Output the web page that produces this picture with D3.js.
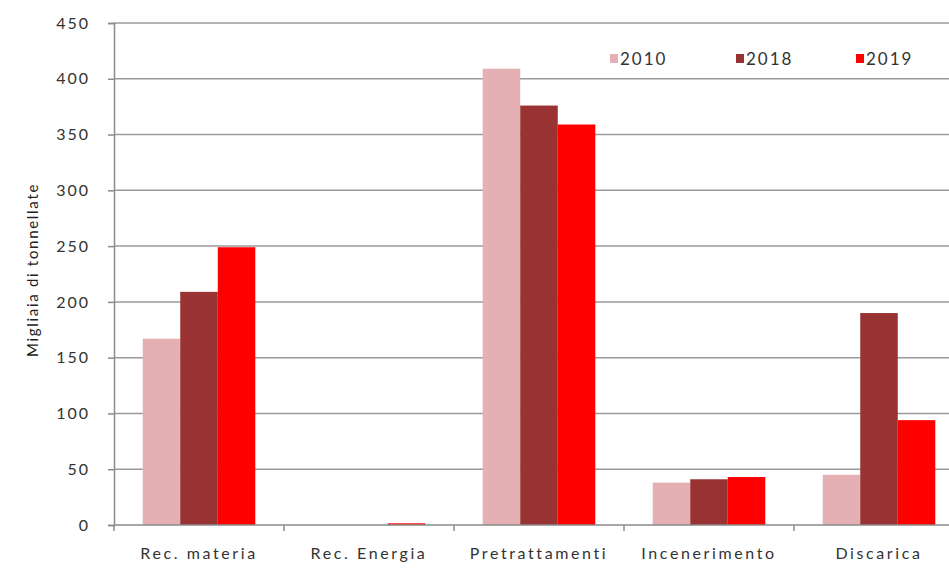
<!DOCTYPE html>
<html><head><meta charset="utf-8">
<script src="https://cdn.jsdelivr.net/npm/d3@7"></script>
<style>body{margin:0;background:#fff}svg{display:block}</style>
</head><body>
<svg id="c" width="949" height="570"></svg>
<script>
const categories = ["Rec. materia", "Rec. Energia", "Pretrattamenti", "Incenerimento", "Discarica"];
const seriesNames = ["2010", "2018", "2019"];
const values2010 = [167, 0, 409, 38, 45];
const values2018 = [209, 0, 376, 41, 190];
const values2019 = [249, 1.5, 359, 43, 94];
const yTicks = [0, 50, 100, 150, 200, 250, 300, 350, 400, 450];
const colors = ["#e4b0b4", "#993333", "#ff0000"];

(function () {
const seriesVals = [values2010, values2018, values2019];
const svg = d3.select("#c");
const mLeft = 114, mTop = 23, mBottom = 525, catW = 170;
const mRight = mLeft + catW * categories.length;
const FF = "Lato, 'Open Sans', sans-serif";

const x = d3.scaleBand().domain(categories).range([mLeft, mRight]).paddingInner(0).paddingOuter(0);
const xs = d3.scaleBand().domain(seriesNames).range([0, x.bandwidth()]).paddingInner(0).paddingOuter(0.765);
const y = d3.scaleLinear().domain([0, 450]).range([mBottom, mTop]);

svg.append("g").selectAll("line").data(yTicks.filter(d => d > 0)).join("line")
  .attr("x1", mLeft).attr("x2", 949).attr("y1", d => y(d)).attr("y2", d => y(d))
  .attr("stroke", "#9a9a9a").attr("stroke-width", 1.5);

const g = svg.append("g");
categories.forEach((c, i) => {
  seriesNames.forEach((s, j) => {
    const v = seriesVals[j][i];
    g.append("rect")
      .attr("x", x(c) + xs(s)).attr("width", xs.bandwidth())
      .attr("y", y(v)).attr("height", mBottom - y(v))
      .attr("fill", colors[j]);
  });
});

const yAxis = d3.axisLeft(y).tickValues(yTicks).tickSize(6).tickPadding(18);
const ya = svg.append("g").attr("transform", `translate(${mLeft},0)`).call(yAxis);
ya.select(".domain").attr("stroke", "#8a8a8a").attr("stroke-width", 1.5);
ya.selectAll(".tick line").attr("stroke", "#8a8a8a").attr("stroke-width", 1.5);
ya.selectAll("text").attr("font-family", FF).attr("font-size", 16).attr("letter-spacing", 2).attr("fill", "#333");

const xa = svg.append("g").attr("transform", `translate(0,${mBottom})`);
xa.append("line").attr("x1", mLeft).attr("x2", 949).attr("y1", 0).attr("y2", 0)
  .attr("stroke", "#8a8a8a").attr("stroke-width", 1.5);
xa.selectAll("line.t").data(categories.map((c) => x(c)).concat([mRight])).join("line").attr("class", "t")
  .attr("x1", d => d).attr("x2", d => d).attr("y1", 0).attr("y2", 6)
  .attr("stroke", "#8a8a8a").attr("stroke-width", 1.5);
xa.selectAll("text").data(categories).join("text")
  .attr("x", d => x(d) + x.bandwidth() / 2).attr("y", 34)
  .attr("text-anchor", "middle")
  .attr("font-family", FF).attr("font-size", 16).attr("letter-spacing", 2.6).attr("fill", "#333")
  .text(d => d);

svg.append("text").attr("transform", "translate(38,270) rotate(-90)")
  .attr("text-anchor", "middle")
  .attr("font-family", FF).attr("font-size", 15).attr("letter-spacing", 1.7).attr("fill", "#222")
  .text("Migliaia di tonnellate");

const legX = [610, 736, 856];
const lg = svg.append("g");
seriesNames.forEach((s, j) => {
  lg.append("rect").attr("x", legX[j]).attr("y", 54).attr("width", 8).attr("height", 9).attr("fill", colors[j]);
  lg.append("text").attr("x", legX[j] + 10).attr("y", 65)
    .attr("font-family", FF).attr("font-size", 17).attr("letter-spacing", 2).attr("fill", "#333")
    .text(s);
});
})();
</script>
</body></html>
